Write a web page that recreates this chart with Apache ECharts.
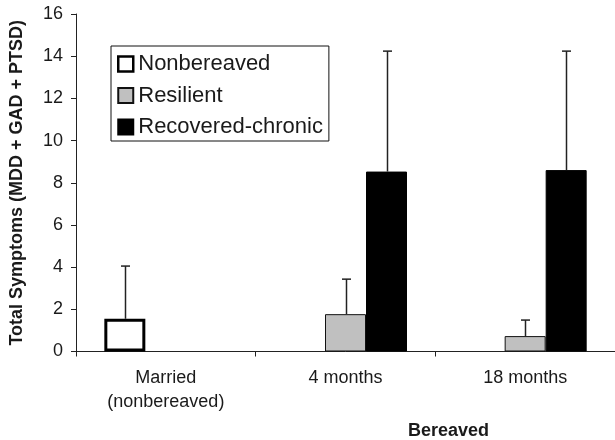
<!DOCTYPE html>
<html>
<head>
<meta charset="utf-8">
<script src="https://cdn.jsdelivr.net/npm/echarts@6/dist/echarts.min.js"></script>
<style>html,body{margin:0;padding:0;background:#fff}#c{width:615px;height:440px}</style>
</head>
<body>
<div id="c"></div>
<script>
const categories = ['Married\n(nonbereaved)', '4 months', '18 months'];
const seriesNames = ['Nonbereaved', 'Resilient', 'Recovered-chronic'];
const nonbereaved = [1.55, null, null];
const resilient = [null, 1.77, 0.73];
const recovered = [null, 8.53, 8.60];
// upper end of each error bar (mean + SD)
const nonbereavedUpper = [4.05, null, null];
const resilientUpper = [null, 3.43, 1.49];
const recoveredUpper = [null, 14.24, 14.24];
const yTicks = { min: 0, max: 16, interval: 2 };

const BAR_W = 41;
const FONT = '"Liberation Sans", Arial, sans-serif';
const TXT = '#1a1a1a';

function errData(vals, ups) {
  const out = [];
  vals.forEach((v, i) => { if (v != null && ups[i] != null) out.push([i, v, ups[i]]); });
  return out;
}
function errSeries(idx, vals, ups) {
  return {
    type: 'custom',
    data: errData(vals, ups),
    z: 5,
    silent: true,
    encode: { x: 0, y: [1, 2] },
    renderItem: function (params, api) {
      const base = api.coord([api.value(0), api.value(1)]);
      const top = api.coord([api.value(0), api.value(2)]);
      const x = Math.round(base[0] + (idx - 1) * BAR_W) + 0.5;
      const style = { stroke: '#222', lineWidth: 1.5 };
      return {
        type: 'group',
        children: [
          { type: 'line', shape: { x1: x, y1: base[1], x2: x, y2: top[1] }, style: style },
          { type: 'line', shape: { x1: x - 4.5, y1: top[1], x2: x + 4.5, y2: top[1] }, style: style }
        ]
      };
    }
  };
}

const chart = echarts.init(document.getElementById('c'), null, { renderer: 'canvas' });
chart.setOption({
  animation: false,
  backgroundColor: '#fff',
  textStyle: { fontFamily: FONT },
  grid: { left: 74, top: 14, width: 542, height: 337.5, containLabel: false },
  legend: {
    data: [
      { name: seriesNames[0], itemStyle: { borderWidth: 2.5, borderColor: '#000', color: '#fff' } },
      { name: seriesNames[1] },
      { name: seriesNames[2] }
    ],
    orient: 'vertical',
    left: 111, top: 46,
    padding: [7, 6, 3, 6],
    itemWidth: 15, itemHeight: 15, itemGap: 9.5,
    borderColor: '#111', borderWidth: 1,
    icon: 'rect',
    textStyle: { fontSize: 22, lineHeight: 22, color: TXT, fontFamily: FONT }
  },
  xAxis: {
    type: 'category',
    data: categories,
    axisLine: { lineStyle: { color: '#222', width: 1 } },
    axisTick: { show: true, length: 5, lineStyle: { color: '#222' } },
    axisLabel: { fontSize: 18, lineHeight: 24, color: TXT, margin: 15, fontFamily: FONT }
  },
  yAxis: {
    type: 'value',
    min: yTicks.min, max: yTicks.max, interval: yTicks.interval,
    name: 'Total Symptoms (MDD + GAD + PTSD)',
    nameLocation: 'middle',
    nameRotate: 90,
    nameGap: 50,
    nameTextStyle: { fontSize: 18, fontWeight: 'bold', color: TXT, fontFamily: FONT },
    splitLine: { show: false },
    axisLine: { show: true, lineStyle: { color: '#222', width: 1 } },
    axisTick: { show: true, length: 5, lineStyle: { color: '#222' } },
    axisLabel: { fontSize: 18, color: TXT, margin: 13, fontFamily: FONT }
  },
  graphic: [{
    type: 'text', left: 408, top: 422,
    style: { text: 'Bereaved', font: 'bold 18px "Liberation Sans", Arial, sans-serif', fill: TXT }
  }],
  series: [
    { name: seriesNames[0], type: 'bar', data: nonbereaved, barWidth: BAR_W, barGap: '0%',
      itemStyle: { color: '#fff', borderColor: '#000', borderWidth: 3 } },
    { name: seriesNames[1], type: 'bar', data: resilient, barWidth: BAR_W, barGap: '0%',
      itemStyle: { color: '#c0c0c0', borderColor: '#111', borderWidth: 1 } },
    { name: seriesNames[2], type: 'bar', data: recovered, barWidth: BAR_W, barGap: '0%',
      itemStyle: { color: '#000', borderColor: '#000', borderWidth: 1 } },
    errSeries(0, nonbereaved, nonbereavedUpper),
    errSeries(1, resilient, resilientUpper),
    errSeries(2, recovered, recoveredUpper)
  ]
});
</script>
</body>
</html>
